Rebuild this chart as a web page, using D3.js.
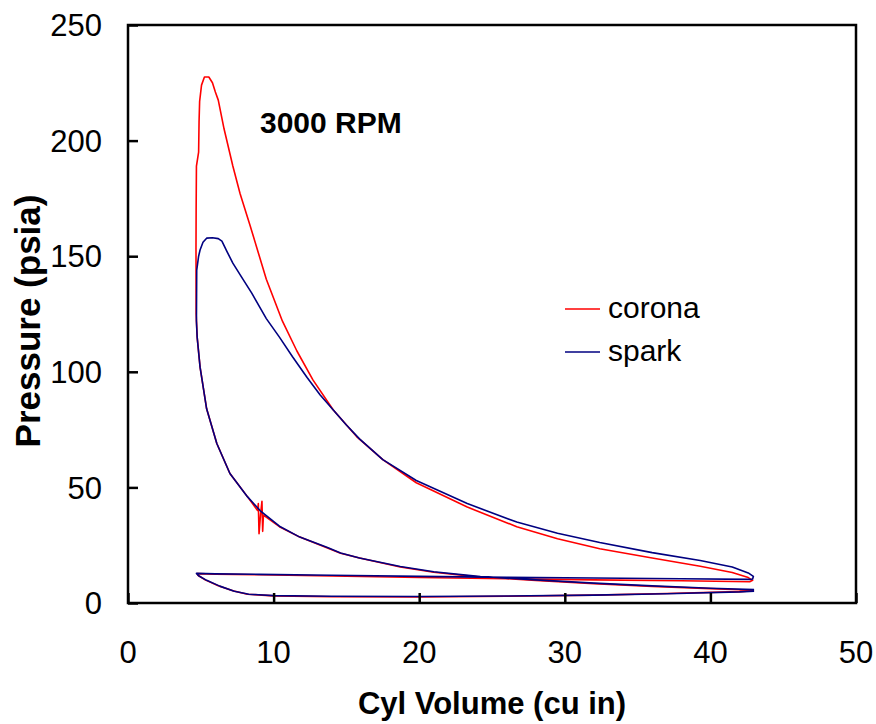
<!DOCTYPE html>
<html lang="en">
<head>
    <meta charset="UTF-8">
    <title>3000 RPM</title>
    <script src="https://cdn.jsdelivr.net/npm/d3@7"></script>
    <style>
        body { margin: 0; background: #fff; }
        text { font-family: "Liberation Sans", Arial, sans-serif; }
    </style>
</head>
<body>
<script type="text/javascript">
    // series names and tick values
    var seriesNames = ["corona", "spark"];
    var xTicks = [0, 10, 20, 30, 40, 50];
    var yTicks = [0, 50, 100, 150, 200, 250];

    // corona loop: volume (cu in) and pressure (psia)
    var coronaV = [43.0, 40, 36, 32, 28, 24.2, 21, 18.7, 15.9, 14.6, 13.7, 11.8, 10.4, 9.3,
        9.25, 9.2, 9.1, 9.0, 8.95, 8.9, 8.2, 7.0, 6.1, 5.4, 4.95, 4.75, 4.68,
        4.67, 4.68, 4.7, 4.85, 4.88, 4.92, 5.05, 5.25, 5.55, 5.8, 6.0, 6.2, 6.6, 7.2, 7.7, 8.4,
        9.5, 10.6, 11.6, 12.7, 14.1, 15.7, 17.5, 19.8, 23.3, 26.7, 29.5, 32.4, 36, 39.3, 41.5,
        42.6, 42.9, 42.7, 38, 32, 26, 20, 14, 9, 6, 4.75, 4.8, 5.3, 6.2, 7.2, 8.2, 10, 14, 20,
        26, 32, 37, 42, 43];
    var coronaP = [5.5, 6.2, 7.2, 8.4, 9.8, 11.2, 13.3, 15.6, 19.5, 21.5, 23.8, 28.5, 33, 38,
        31, 44, 38, 30, 43, 40, 46, 56, 69, 84, 102, 115, 125,
        153, 170, 189, 195, 208, 217, 224, 227.5, 227.5, 225, 221, 217.5, 205, 189, 177, 163,
        140, 122, 109, 96.5, 83.5, 72, 62, 52, 41.5, 33, 27.8, 23.5, 19.5, 15.9, 13.2,
        11, 9.8, 9.2, 9.6, 10.0, 10.5, 11.0, 11.7, 12.2, 12.5, 12.7, 12.0, 10, 7.5, 5.3, 3.8, 3.1, 2.7, 2.6,
        2.9, 3.4, 4.1, 4.9, 5.3];

    // spark loop
    var sparkV = [43.0, 40, 36, 32, 28, 24.2, 21, 18.7, 15.9, 14.6, 13.7, 11.8, 10.4, 9.07, 8.2,
        7.0, 6.1, 5.4, 4.95, 4.75, 4.7, 4.72, 4.85, 4.95, 5.15, 5.4, 5.8, 6.2, 6.45, 6.8, 7.2,
        7.9, 8.5, 9.5, 10.4, 11.3, 12.3, 13.2, 14.1, 15.0, 15.9, 17.5, 19.8, 23.3, 26.7, 29.5,
        32.4, 36, 39.3, 41.5, 42.6, 42.95, 42.9, 42.7, 38, 32, 26, 20, 14, 9, 6, 4.7, 4.85, 5.4,
        6.3, 7.3, 8.3, 10, 14, 20, 26, 32, 37, 42, 43];
    var sparkP = [5.8, 6.4, 7.4, 8.6, 10, 11.4, 13.5, 15.8, 19.5, 21.6, 24, 28.5, 33.2, 40, 46,
        56, 69, 84, 102, 115, 122, 144, 150, 152.7, 156, 157.8, 158, 157.6, 156.5, 152, 147,
        140, 134, 123, 115, 106.5, 97.5, 90, 83.5, 77, 71, 62, 53, 43, 35, 30.2,
        26.2, 21.8, 18.4, 15.6, 13, 11.5, 10.4, 10.2, 10.5, 10.8, 11.1, 11.5, 12, 12.4, 12.6, 12.8, 11.8,
        9.8, 7.3, 5.1, 3.8, 3.2, 2.9, 2.8, 3.0, 3.4, 4.0, 4.8, 5.1];

    var colors = ["#ff0000", "#000080"];

    var width = 876;
    var height = 724;
    var margin = {left: 128, top: 25, right: 20, bottom: 121};

    var svg = d3.select('body').append('svg')
            .attr('width', width)
            .attr('height', height);

    var x = d3.scaleLinear().domain([0, 50]).range([margin.left, width - margin.right]);
    var y = d3.scaleLinear().domain([0, 250]).range([height - margin.bottom, margin.top]);

    function toPoints(vs, ps) {
        return vs.map(function (v, i) {
            return [v, ps[i]];
        });
    }
    var series = [toPoints(coronaV, coronaP), toPoints(sparkV, sparkP)];

    var line = d3.line()
            .x(function (d) { return x(d[0]); })
            .y(function (d) { return y(d[1]); });

    // loops
    svg.selectAll('.loop')
            .data(series)
            .enter()
            .append('path')
            .attr('class', 'loop')
            .attr('d', line)
            .attr('fill', 'none')
            .attr('stroke', function (d, i) { return colors[i]; })
            .attr('stroke-width', 1.6)
            .attr('stroke-linejoin', 'round');

    // inward ticks
    var xAxis = svg.append('g')
            .attr('transform', 'translate(0,' + y(0) + ')')
            .call(d3.axisTop(x).tickValues(xTicks).tickSize(10).tickFormat(''));
    var yAxis = svg.append('g')
            .attr('transform', 'translate(' + x(0) + ',0)')
            .call(d3.axisRight(y).tickValues(yTicks).tickSize(10).tickFormat(''));
    [xAxis, yAxis].forEach(function (g) {
        g.select('.domain').remove();
        g.selectAll('line').attr('stroke', '#000').attr('stroke-width', 2.5);
    });

    // frame
    svg.append('rect')
            .attr('x', x(0))
            .attr('y', y(250))
            .attr('width', x(50) - x(0))
            .attr('height', y(0) - y(250))
            .attr('fill', 'none')
            .attr('stroke', '#000')
            .attr('stroke-width', 2.5);

    // tick labels
    svg.selectAll('.xLabel')
            .data(xTicks)
            .enter()
            .append('text')
            .attr('class', 'xLabel')
            .attr('x', function (d) { return x(d); })
            .attr('y', 663)
            .attr('text-anchor', 'middle')
            .style('font-size', '31px')
            .text(function (d) { return d; });
    svg.selectAll('.yLabel')
            .data(yTicks)
            .enter()
            .append('text')
            .attr('class', 'yLabel')
            .attr('x', 102)
            .attr('y', function (d) { return y(d); })
            .attr('dy', '0.36em')
            .attr('text-anchor', 'end')
            .style('font-size', '31px')
            .text(function (d) { return d; });

    // axis titles
    svg.append('text')
            .attr('x', (x(0) + x(50)) / 2)
            .attr('y', 714)
            .attr('text-anchor', 'middle')
            .style('font-size', '31px')
            .style('font-weight', 'bold')
            .text('Cyl Volume (cu in)');
    svg.append('text')
            .attr('transform', 'translate(40,321) rotate(-90)')
            .attr('text-anchor', 'middle')
            .style('font-size', '35px')
            .style('font-weight', 'bold')
            .text('Pressure (psia)');

    svg.append('text')
            .attr('x', 260)
            .attr('y', 133)
            .style('font-size', '30px')
            .style('font-weight', 'bold')
            .text('3000 RPM');

    // legend
    var legend = svg.selectAll('.legend')
            .data(seriesNames)
            .enter()
            .append('g')
            .attr('class', 'legend')
            .attr('transform', function (d, i) { return 'translate(565,' + (309 + i * 43) + ')'; });
    legend.append('line')
            .attr('x1', 0)
            .attr('x2', 35)
            .attr('stroke', function (d, i) { return colors[i]; })
            .attr('stroke-width', 1.6);
    legend.append('text')
            .attr('x', 43)
            .attr('y', 9)
            .style('font-size', '30px')
            .text(function (d) { return d; });
</script>
</body>
</html>
